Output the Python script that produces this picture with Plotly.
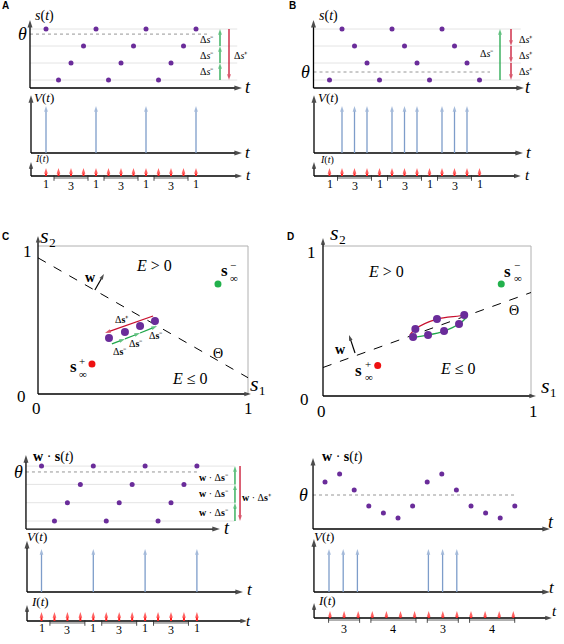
import plotly.graph_objects as go

W, H = 564, 644

# ---------------- data ----------------
ROWS = [0, 1, 2, 3]                      # discrete levels of s(t)

A_levels = [3, 0, 1, 2, 3, 0, 1, 2, 3, 0, 1, 2, 3]
A_theta = 2.7
A_spikes = [0, 4, 8, 12]

B_levels = [0, 3, 2, 1, 0, 3, 2, 1, 0, 3, 2, 1, 0]
B_theta = 0.47
B_spikes = [1, 2, 3, 5, 6, 7, 9, 10, 11]

AB_groups = [1, 3, 1, 3, 1, 3, 1]        # input pattern labels

C_theta_s1 = [0.0, 1.0]
C_theta_s2 = [0.92, 0.11]
C_dots_s1 = [0.338, 0.414, 0.486, 0.557]
C_dots_s2 = [0.378, 0.419, 0.459, 0.493]
C_plus_s1 = [0.548, 0.319]
C_plus_s2 = [0.527, 0.412]
C_minus_s1 = [0.352, 0.414, 0.486, 0.567]
C_minus_s2 = [0.338, 0.372, 0.412, 0.459]
C_splus = [0.257, 0.203]
C_sminus = [0.857, 0.743]
C_w_s1 = [0.271, 0.314]
C_w_s2 = [0.703, 0.811]

D_theta_s1 = [0.0, 1.0]
D_theta_s2 = [0.19, 0.69]
D_upper_s1 = [0.444, 0.548, 0.679]
D_upper_s2 = [0.447, 0.513, 0.540]
D_lower_s1 = [0.433, 0.505, 0.582, 0.654]
D_lower_s2 = [0.393, 0.407, 0.433, 0.480]
D_red_s1 = [0.418, 0.444, 0.548, 0.679, 0.692]
D_red_s2 = [0.407, 0.447, 0.513, 0.540, 0.553]
D_green_s1 = [0.423, 0.433, 0.505, 0.582, 0.654, 0.692]
D_green_s2 = [0.400, 0.393, 0.407, 0.433, 0.480, 0.527]
D_splus = [0.263, 0.204]
D_sminus = [0.857, 0.747]
D_w_s1 = [0.154, 0.125]
D_w_s2 = [0.287, 0.407]

E_levels = [3, 0, 1, 2, 3, 0, 1, 2, 3, 0, 1, 2, 3]   # lower-left w.s(t)
E_theta = 2.68
E_spikes = [0, 4, 8, 12]

F_ws = [4.7, 5.5, 3.9, 2.3, 1.6, 1.1, 2.3, 4.7, 5.5, 3.9, 2.3, 1.6, 1.1, 2.3]
F_theta = 3.4
F_spikes = [0, 1, 2, 7, 8, 9]
F_groups = [3, 4, 3, 4]

# ---------------- style ----------------
PURPLE = '#6a2c9a'
GREEN = '#1fa64a'
DRED = '#c8102e'
RED = '#ff1f1f'
BLUE = '#7d9dca'
GRID = '#e4e4e4'
SERIF = 'Liberation Serif'
SANS = 'Liberation Sans'

S_T = '<i>s</i>(<i>t</i>)'
V_T = '<i>V</i>(<i>t</i>)'
I_T = '<i>I</i>(<i>t</i>)'
T = '<i>t</i>'
THETA = '<i>θ</i>'
DSM = 'Δ<i>s</i>⁻'
DSP = 'Δ<i>s</i>⁺'
WS = '<b>w</b> · <b>s</b>(<i>t</i>)'
WDSM = '<b>w</b> · Δ<b>s</b>⁻'
WDSP = '<b>w</b> · Δ<b>s</b>⁺'

fig = go.Figure()
axes = {}
ann = []
cnt = [0]


def panel(box, xmap, ymap):
    cnt[0] += 1
    i = cnt[0]
    L, R, Tp, B = box
    px0, xv0, kx = xmap
    py0, yv0, ky = ymap
    xr = [xv0 + (L - px0) / kx, xv0 + (R - px0) / kx]
    yr = [yv0 + (B - py0) / ky, yv0 + (Tp - py0) / ky]
    sx = '' if i == 1 else str(i)
    axes['xaxis' + sx] = dict(domain=[L / W, R / W], range=xr, visible=False,
                              anchor='y' + sx, fixedrange=True, showgrid=False, zeroline=False)
    axes['yaxis' + sx] = dict(domain=[1 - B / H, 1 - Tp / H], range=yr, visible=False,
                              anchor='x' + sx, fixedrange=True, showgrid=False, zeroline=False)
    return ('x' + sx, 'y' + sx)


def txt(p, x, y, s, size=12, color='black', family=SERIF, xa='center', ya='middle', xs=0, ys=0):
    ann.append(dict(xref=p[0], yref=p[1], x=x, y=y, text=s, showarrow=False,
                    font=dict(size=size, color=color, family=family),
                    xanchor=xa, yanchor=ya, xshift=xs, yshift=ys))


def arrows(p, segs, color='black', width=1.3, head=6):
    xs, ys, sz = [], [], []
    for x0, y0, x1, y1 in segs:
        xs += [x0, x1, None]
        ys += [y0, y1, None]
        sz += [0, head, 0]
    fig.add_trace(go.Scatter(x=xs, y=ys, xaxis=p[0], yaxis=p[1], mode='lines+markers',
                             line=dict(color=color, width=width),
                             marker=dict(symbol='arrow', size=sz, angleref='previous', color=color,
                                         line=dict(width=0)),
                             cliponaxis=False, hoverinfo='skip', showlegend=False))


def ln(p, xs, ys, color='black', width=1.0, dash='solid', shape='linear'):
    fig.add_trace(go.Scatter(x=xs, y=ys, xaxis=p[0], yaxis=p[1], mode='lines',
                             line=dict(color=color, width=width, dash=dash, shape=shape),
                             hoverinfo='skip', showlegend=False))


def pts(p, xs, ys, color, size):
    fig.add_trace(go.Scatter(x=xs, y=ys, xaxis=p[0], yaxis=p[1], mode='markers',
                             marker=dict(color=color, size=size, line=dict(width=0)), cliponaxis=False,
                             hoverinfo='skip', showlegend=False))


def frame(p, ox, oy, xend, yend, width=1.3, color='black', head=8):
    arrows(p, [(ox, oy, xend, oy), (ox, oy, ox, yend)], color, width, head)


def spikes(p, ts):
    arrows(p, [(t, 0, t, 1) for t in ts], BLUE, 1.3, 6)


def inputs(p, groups, y1, y3, yb, pad, size=12):
    t = 0
    segs = []
    for g in groups:
        for k in range(g):
            segs.append((t + k, 0, t + k, 1))
        mid = t + (g - 1) / 2
        if g > 1:
            fig.add_trace(go.Scatter(x=[t - pad, t + g - 1 + pad], y=[yb, yb], xaxis=p[0], yaxis=p[1],
                                     mode='lines+markers', line=dict(color='#222', width=0.7),
                                     marker=dict(symbol='line-ns-open', size=4,
                                                 line=dict(color='#222', width=0.8)),
                                     cliponaxis=False, hoverinfo='skip', showlegend=False))
            txt(p, mid, y3, str(g), size)
        else:
            txt(p, mid, y1, str(g), size)
        t += g
    arrows(p, segs, RED, 2.0, 6)


def trange(vals):
    return list(range(len(vals)))


def sinf(p, x, y, sign):
    txt(p, x, y, '<b>s</b>', 17, ys=2)
    txt(p, x, y, sign, 11, xs=9, ys=8)
    txt(p, x, y, '∞', 11, xs=10, ys=-5)


# ================= Panel A =================
pA = panel((0, 282, 6, 94), (46, 0, 12.5), (80, 0, -17))
for L in ROWS:
    ln(pA, [-1.28, 15.3], [L, L], GRID, 1)
ln(pA, [-1.28, 12.96], [A_theta] * 2, '#8a8a8a', 0.9, 'dot')
pts(pA, trange(A_levels), A_levels, PURPLE, 5)
frame(pA, -1.28, -0.47, 15.68, 3.53)
txt(pA, -0.16, 3.76, S_T, 14)
txt(pA, -1.92, A_theta, THETA, 18)
txt(pA, 16.16, -0.41, T, 18)
arrows(pA, [(13.92, a, 13.92, b) for a, b in zip(ROWS[:-1], ROWS[1:])], GREEN, 1.3, 6)
arrows(pA, [(14.64, ROWS[-1], 14.64, ROWS[0])], DRED, 1.3, 6)
for y in [2.4, 1.45, 0.5]:
    txt(pA, 12.9, y, DSM, 10)
txt(pA, 15.6, 1.47, DSP, 10)

pAV = panel((0, 282, 94, 158), (46, 0, 12.5), (153, 0, -47))
frame(pAV, -1.2, 0, 15.68, 1.23)
spikes(pAV, A_spikes)
txt(pAV, -0.16, 1.19, V_T, 13)
txt(pAV, 16.16, 0.02, T, 17)

pAI = panel((0, 282, 158, 198), (46, 0, 12.5), (176, 0, -8))
frame(pAI, -1.2, 0, 15.68, 1.75, head=7)
inputs(pAI, AB_groups, -1.0, -1.31, -0.25, 0.36)
txt(pAI, -0.32, 2.1, I_T, 10)
txt(pAI, 16.16, 0.1, T, 15)

# ================= Panel B =================
pB = panel((282, 564, 6, 94), (329.5, 0, 12.5), (80, 0, -17))
for L in ROWS:
    ln(pB, [-1.28, 15.3], [L, L], GRID, 1)
ln(pB, [-1.28, 12.84], [B_theta] * 2, '#8a8a8a', 0.9, 'dot')
pts(pB, trange(B_levels), B_levels, PURPLE, 5)
frame(pB, -1.28, -0.47, 15.56, 3.53)
txt(pB, -0.12, 3.76, S_T, 14)
txt(pB, -1.96, B_theta, THETA, 18)
txt(pB, 15.88, -0.43, T, 18)
arrows(pB, [(13.64, ROWS[0], 13.64, ROWS[-1])], GREEN, 1.3, 6)
rev = ROWS[::-1]
arrows(pB, [(14.52, a, 14.52, b) for a, b in zip(rev[:-1], rev[1:])], DRED, 1.3, 6)
for y in [2.4, 1.47, 0.5]:
    txt(pB, 15.7, y, DSP, 10)
txt(pB, 12.6, 1.56, DSM, 10)

pBV = panel((282, 564, 94, 158), (329.5, 0, 12.5), (153, 0, -47))
frame(pBV, -1.24, 0, 15.48, 1.23)
spikes(pBV, B_spikes)
txt(pBV, -0.12, 1.18, V_T, 13)
txt(pBV, 15.96, 0.02, T, 17)

pBI = panel((282, 564, 158, 198), (329.5, 0, 12.5), (176, 0, -8))
frame(pBI, -1.24, 0, 15.3, 1.75, head=7)
inputs(pBI, AB_groups, -1.0, -1.31, -0.25, 0.36)
txt(pBI, -0.2, 2.0, I_T, 10)
txt(pBI, 15.8, 0.1, T, 15)

# ================= Panel C (phase plane) =================
pC = panel((0, 282, 222, 422), (38, 0, 210), (394, 0, -148))
ln(pC, [0, 1, 1], [1, 1, 0], '#b0b0b0', 1)
frame(pC, 0, 0, 1.014, 1.068, head=7)
ln(pC, C_theta_s1, C_theta_s2, 'black', 1, 'dash')
arrows(pC, [(C_w_s1[0], C_w_s2[0], C_w_s1[1], C_w_s2[1])], 'black', 1.2, 6)
arrows(pC, [(C_plus_s1[0], C_plus_s2[0], C_plus_s1[1], C_plus_s2[1])], DRED, 1.3, 6)
arrows(pC, [(C_minus_s1[i], C_minus_s2[i], C_minus_s1[i + 1], C_minus_s2[i + 1])
            for i in range(len(C_minus_s1) - 1)], GREEN, 1.3, 6)
pts(pC, C_dots_s1, C_dots_s2, PURPLE, 8)
pts(pC, [C_splus[0]], [C_splus[1]], '#ee1111', 7)
pts(pC, [C_sminus[0]], [C_sminus[1]], '#22b14c', 7)
txt(pC, 0.048, 1.074, '<i>s</i>₂', 22)
txt(pC, 1.095, 0.068, '<i>s</i>₁', 22, xa='right')
txt(pC, -0.048, 0.966, '1', 17)
txt(pC, -0.08, -0.014, '0', 17)
txt(pC, -0.005, -0.1, '0', 17)
txt(pC, 1.0, -0.1, '1', 17)
txt(pC, 0.55, 0.868, '<i>E</i> > 0', 16)
txt(pC, 0.724, 0.108, '<i>E</i> ≤ 0', 16)
txt(pC, 0.857, 0.277, 'Θ', 14)
txt(pC, 0.248, 0.784, '<b>w</b>', 14)
sinf(pC, 0.886, 0.818, '−')
sinf(pC, 0.167, 0.169, '+')
txt(pC, 0.402, 0.503, 'Δ<b>s</b>⁺', 10)
for x, y in [(0.39, 0.284), (0.469, 0.338), (0.562, 0.392)]:
    txt(pC, x, y, 'Δ<b>s</b>⁻', 10)

# ================= Panel D (phase plane) =================
pD = panel((282, 564, 222, 422), (323, 0, 208), (396, 0, -150))
ln(pD, [0, 1, 1], [1, 1, 0], '#b0b0b0', 1)
frame(pD, 0, 0, 1.024, 1.053, head=7)
ln(pD, D_theta_s1, D_theta_s2, 'black', 1, 'dash')
arrows(pD, [(D_w_s1[0], D_w_s2[0], D_w_s1[1], D_w_s2[1])], 'black', 1.2, 6)
ln(pD, D_red_s1, D_red_s2, DRED, 1.3, 'solid', 'spline')
ln(pD, D_green_s1, D_green_s2, GREEN, 1.3, 'solid', 'spline')
pts(pD, D_upper_s1 + D_lower_s1, D_upper_s2 + D_lower_s2, PURPLE, 8)
pts(pD, [D_splus[0]], [D_splus[1]], '#ee1111', 7)
pts(pD, [D_sminus[0]], [D_sminus[1]], '#22b14c', 7)
txt(pD, 0.072, 1.093, '<i>s</i>₂', 22)
txt(pD, 1.135, 0.067, '<i>s</i>₁', 22, xa='right')
txt(pD, -0.053, 0.96, '1', 17)
txt(pD, -0.087, -0.02, '0', 17)
txt(pD, -0.005, -0.1, '0', 17)
txt(pD, 1.01, -0.1, '1', 17)
txt(pD, 0.305, 0.827, '<i>E</i> > 0', 16)
txt(pD, 0.647, 0.183, '<i>E</i> ≤ 0', 16)
txt(pD, 0.918, 0.573, 'Θ', 14)
txt(pD, 0.082, 0.307, '<b>w</b>', 14)
sinf(pD, 0.889, 0.82, '−')
sinf(pD, 0.173, 0.16, '+')

# ================= Lower-left (w.s, V, I) =================
pE = panel((0, 282, 440, 534), (41.5, 0, 12.95), (521, 0, -18.3))
for L in ROWS:
    ln(pE, [-1.2, 14.9], [L, L], GRID, 1)
ln(pE, [-1.2, 12.0], [E_theta] * 2, '#8a8a8a', 0.9, 'dot')
pts(pE, trange(E_levels), E_levels, PURPLE, 5)
frame(pE, -1.2, -0.44, 13.78, 3.6)
txt(pE, 0.89, 3.5, WS, 14)
txt(pE, -1.81, E_theta, THETA, 18)
txt(pE, 14.32, -0.38, T, 18)
arrows(pE, [(14.94, a, 14.94, b) for a, b in zip(ROWS[:-1], ROWS[1:])], GREEN, 1.3, 6)
arrows(pE, [(15.33, ROWS[-1], 15.33, ROWS[0])], DRED, 1.3, 6)
for y in [2.4, 1.48, 0.49]:
    txt(pE, 13.3, y, WDSM, 10)
txt(pE, 16.64, 1.31, WDSP, 10)

pEV = panel((0, 282, 534, 598), (41.5, 0, 12.95), (592, 0, -43))
frame(pEV, -1.12, 0, 15.56, 1.19)
spikes(pEV, E_spikes)
txt(pEV, -0.35, 1.28, V_T, 13)
txt(pEV, 16.1, 0.05, T, 17)

pEI = panel((0, 282, 598, 644), (41.5, 0, 12.95), (621, 0, -9))
frame(pEI, -1.12, 0, 15.87, 1.78, head=7)
inputs(pEI, AB_groups, -0.78, -1.0, -0.22, 0.35)
txt(pEI, -0.12, 2.22, I_T, 13)
txt(pEI, 16.0, 0.0, T, 15)

# ================= Lower-right (w.s, V, I) =================
pF = panel((282, 564, 440, 534), (325, 0, 14.6), (529, 0, -10))
ln(pF, [-0.82, 13.15], [F_theta] * 2, '#8a8a8a', 0.9, 'dot')
pts(pF, trange(F_ws), F_ws, PURPLE, 5)
frame(pF, -0.82, 0, 15.41, 7.1)
txt(pF, 1.23, 7.2, WS, 14)
txt(pF, -1.5, F_theta, THETA, 18)
txt(pF, 15.48, 0.7, T, 18)

pFV = panel((282, 564, 534, 598), (329, 0, 14.2), (592, 0, -43))
frame(pFV, -1.06, 0, 15.56, 1.23)
spikes(pFV, F_spikes)
txt(pFV, -0.35, 1.28, V_T, 13)
txt(pFV, 15.7, 0.1, T, 17)

pFI = panel((282, 564, 598, 644), (330, 0, 14.1), (618, 0, -7))
frame(pFI, -1.13, 0, 15.74, 2.14, head=7)
inputs(pFI, F_groups, -1.57, -1.57, -0.29, 0.1)
txt(pFI, -0.21, 2.57, I_T, 13)
txt(pFI, 15.9, 1.0, T, 15)

# ================= panel letters =================
for letter, px, py in [('A', 5, 6), ('B', 292, 6), ('C', 5, 236), ('D', 290, 236)]:
    ann.append(dict(xref='paper', yref='paper', x=px / W, y=1 - py / H, text='<b>%s</b>' % letter,
                    showarrow=False, font=dict(size=10, family=SANS, color='black'),
                    xanchor='center', yanchor='middle'))

fig.update_layout(width=W, height=H, margin=dict(l=0, r=0, t=0, b=0), autosize=False,
                  paper_bgcolor='white', plot_bgcolor='rgba(0,0,0,0)', showlegend=False,
                  hovermode=False, annotations=ann, **axes)
fig.write_html('out.html', config={'displayModeBar': False, 'staticPlot': True},
               post_script="document.body.style.margin='0';")
